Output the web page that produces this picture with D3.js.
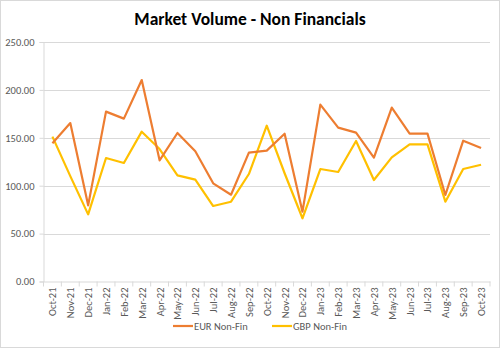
<!DOCTYPE html>
<html><head><meta charset="utf-8">
<script src="https://cdn.jsdelivr.net/npm/d3@7"></script>
<style>body{margin:0;background:#fff;} svg{display:block;}</style>
</head><body>
<svg id="chart" width="501" height="350"></svg>
<script>
const months = ["Oct-21","Nov-21","Dec-21","Jan-22","Feb-22","Mar-22","Apr-22","May-22","Jun-22","Jul-22","Aug-22","Sep-22","Oct-22","Nov-22","Dec-22","Jan-23","Feb-23","Mar-23","Apr-23","May-23","Jun-23","Jul-23","Aug-23","Sep-23","Oct-23"];
const eurNonFin = [144.3,165.4,79.5,177.3,170.0,210.3,126.5,155.0,135.9,102.5,90.6,134.5,136.6,154.3,72.9,184.6,160.6,155.4,129.3,181.5,154.3,154.3,90.3,147.0,139.4];
const gbpNonFin = [151.2,110.0,70.1,128.9,123.7,156.4,138.3,110.8,106.3,78.8,83.3,112.2,162.6,113.0,66.0,117.4,114.3,146.7,105.9,129.6,143.2,143.2,83.3,117.4,121.9];
const yTicks = [0,50,100,150,200,250];
const seriesNames = ["EUR Non-Fin","GBP Non-Fin"];
const colors = ["#ED7D31","#FFC000"];

const svg = d3.select("#chart");
const font = "Carlito, Calibri, 'Open Sans', sans-serif";
svg.append("rect").attr("x",0.5).attr("y",0.5).attr("width",499).attr("height",347)
  .attr("fill","#fff").attr("stroke","#d9d9d9");

svg.append("text").attr("x",250).attr("y",25).attr("text-anchor","middle")
  .attr("font-family",font).attr("font-weight","bold").attr("font-size",17.5)
  .attr("fill","#000").text("Market Volume - Non Financials");

const pL = 43.5, pR = 490, pT = 42, pB = 281.5;
const x = d3.scaleBand().domain(months).range([pL,pR]);
const y = d3.scaleLinear().domain([0,250]).range([pB,pT]);

// gridlines
svg.append("g").selectAll("line").data(yTicks.filter(d=>d>0)).join("line")
  .attr("x1",pL).attr("x2",pR).attr("y1",d=>Math.round(y(d))+0.5).attr("y2",d=>Math.round(y(d))+0.5)
  .attr("stroke","#d9d9d9").attr("stroke-width",1);

// y axis
const yAxis = svg.append("g").attr("transform",`translate(${pL},0)`)
  .call(d3.axisLeft(y).tickValues(yTicks).tickFormat(d3.format(".2f")).tickSize(4).tickPadding(5));
yAxis.select(".domain").attr("stroke","#d9d9d9");
yAxis.selectAll(".tick line").attr("stroke","#d9d9d9");
yAxis.selectAll("text").attr("font-family",font).attr("font-size",10.5).attr("fill","#595959");

// x axis
const xAxis = svg.append("g").attr("transform",`translate(0,${pB})`)
  .call(d3.axisBottom(x).tickSize(0).tickPadding(0));
xAxis.select(".domain").attr("stroke","#d9d9d9");
xAxis.selectAll("text").attr("font-family",font).attr("font-size",10.5).attr("fill","#595959")
  .attr("transform","translate(4,6) rotate(-90)").attr("text-anchor","end").attr("dy",0).attr("dominant-baseline","auto");
// ticks between categories
const bw = x.bandwidth();
svg.append("g").selectAll("line").data(months.concat(["end"])).join("line")
  .attr("x1",(d,i)=>pL+i*bw).attr("x2",(d,i)=>pL+i*bw)
  .attr("y1",pB).attr("y2",pB+5).attr("stroke","#d9d9d9");

const line = d3.line().x((d,i)=>x(months[i])+bw/2).y(d=>y(d));
[gbpNonFin, eurNonFin].forEach((s,k)=>{
  const idx = k===0 ? 1 : 0;
  svg.append("path").datum(s).attr("d",line).attr("fill","none")
    .attr("stroke",colors[idx]).attr("stroke-width",2.2).attr("stroke-linejoin","round");
});

// legend
const legX = [173, 272];
seriesNames.forEach((n,i)=>{
  const g = svg.append("g");
  g.append("line").attr("x1",legX[i]).attr("x2",legX[i]+20).attr("y1",326).attr("y2",326)
    .attr("stroke",colors[i]).attr("stroke-width",2.2);
  g.append("text").attr("x",legX[i]+21).attr("y",329.5).attr("font-family",font)
    .attr("font-size",10.5).attr("fill","#595959").text(n);
});
</script>
</body></html>
